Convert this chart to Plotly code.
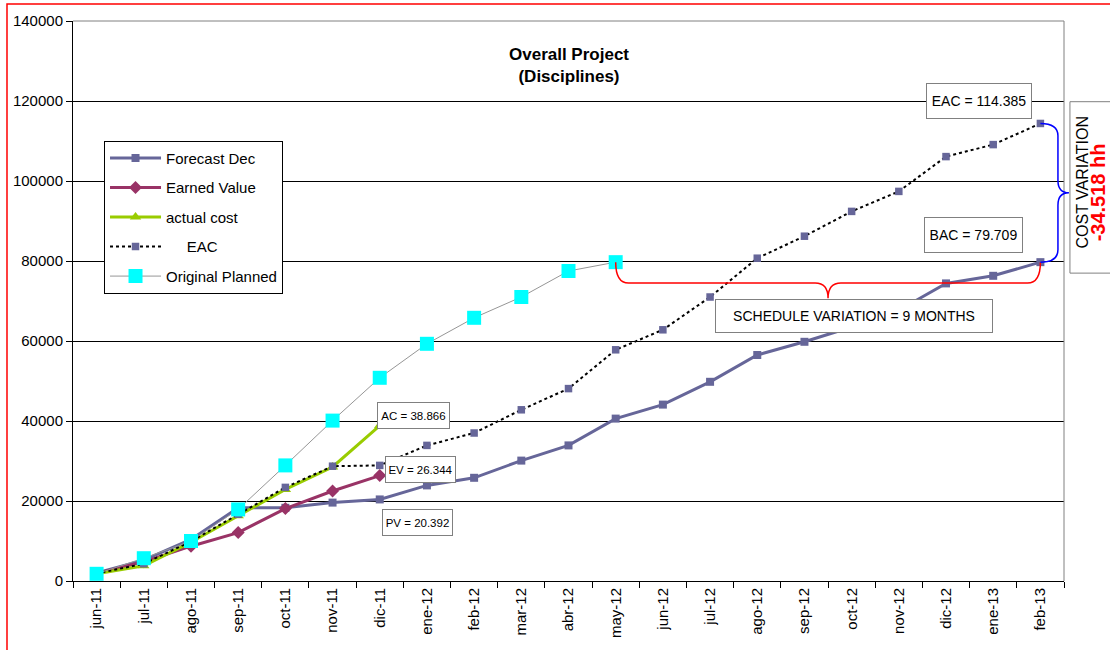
import plotly.graph_objects as go

months = ["jun-11", "jul-11", "ago-11", "sep-11", "oct-11", "nov-11", "dic-11",
          "ene-12", "feb-12", "mar-12", "abr-12", "may-12", "jun-12", "jul-12",
          "ago-12", "sep-12", "oct-12", "nov-12", "dic-12", "ene-13", "feb-13"]

forecast_dec = [2000, 5200, 10400, 18300, 18300, 19600, 20392, 23900, 25800, 30100, 33900,
                40600, 44100, 49800, 56500, 59800, 63500, 67700, 74400, 76300, 79709]
earned_value = [1900, 4800, 8700, 12100, 18100, 22500, 26344]
actual_cost = [1800, 3800, 9700, 16300, 22900, 28500, 38866]
eac = [1900, 4300, 9900, 16700, 23400, 28700, 28900, 33900, 37000, 42800, 48100,
       57800, 62800, 71000, 80700, 86200, 92400, 97400, 106100, 109100, 114385]
original_planned = [1800, 5700, 10000, 17900, 28900, 40100, 50800, 59300, 65800,
                    71000, 77500, 79709]

Y_MAX = 140000
FONT = "Arial, Liberation Sans, sans-serif"
PURPLE = "#666699"

fig = go.Figure()
fig.add_trace(go.Scatter(x=months, y=forecast_dec, name="Forecast Dec", legendgroup="a",
                         mode="lines+markers", line=dict(color=PURPLE, width=3),
                         marker=dict(symbol="square", size=8, color=PURPLE)))
fig.add_trace(go.Scatter(x=months[:len(earned_value)], y=earned_value, name="Earned Value",
                         legendgroup="b", mode="lines+markers",
                         line=dict(color="#993366", width=3),
                         marker=dict(symbol="diamond", size=10, color="#993366")))
fig.add_trace(go.Scatter(x=months[:len(actual_cost)], y=actual_cost, name="actual cost",
                         legendgroup="c", mode="lines+markers",
                         line=dict(color="#99CC00", width=3),
                         marker=dict(symbol="triangle-up", size=10, color="#99CC00")))
fig.add_trace(go.Scatter(x=months, y=eac, name="\u00a0\u00a0\u00a0\u00a0\u00a0EAC",
                         legendgroup="d", mode="lines+markers",
                         line=dict(color="black", width=2, dash="dot"),
                         marker=dict(symbol="square", size=7.5, color=PURPLE)))
fig.add_trace(go.Scatter(x=months[:len(original_planned)], y=original_planned,
                         name="Original Planned", legendgroup="e", mode="lines+markers",
                         line=dict(color="#969696", width=1),
                         marker=dict(symbol="square", size=14, color="#00FFFF")))

def px(i):
    return (i + 0.5) / len(months)

def py(v):
    return v / Y_MAX

shapes = []
# outer red frame
shapes.append(dict(type="rect", xref="paper", yref="paper", x0=-0.0666, x1=1.2,
                   y0=-0.5, y1=1.0302, line=dict(color="red", width=1.5), layer="below"))
# gray top and right border of plot
shapes.append(dict(type="line", xref="paper", yref="paper", x0=0, x1=1, y0=1, y1=1,
                   line=dict(color="#808080", width=1)))
shapes.append(dict(type="line", xref="paper", yref="paper", x0=1, x1=1, y0=0, y1=1,
                   line=dict(color="#808080", width=1)))

# red schedule-variation brace
i_start = len(original_planned) - 1
i_end = len(months) - 1
xa, xb = px(i_start), px(i_end)
xm = (xa + xb) / 2
ytop = py(original_planned[-1])
ymid = py(74500)
ytip = py(70700)
dx = 0.013
red_path = (f"M{xa},{ytop} Q{xa},{ymid} {xa+dx},{ymid} L{xm-dx},{ymid} "
            f"Q{xm},{ymid} {xm},{ytip} Q{xm},{ymid} {xm+dx},{ymid} "
            f"L{xb-dx},{ymid} Q{xb},{ymid} {xb},{ytop}")
shapes.append(dict(type="path", xref="paper", yref="paper", path=red_path,
                   line=dict(color="red", width=1.5)))

# blue cost-variation brace
x0 = px(i_end)
x1 = x0 + 0.0177
xt = x0 + 0.0288
yt = py(eac[-1])
yb = py(forecast_dec[-1])
yc = (yt + yb) / 2
d = 0.022
blue_path = (f"M{x0},{yt} Q{x1},{yt} {x1},{yt-d} L{x1},{yc+d} "
             f"Q{x1},{yc} {xt},{yc} Q{x1},{yc} {x1},{yc-d} "
             f"L{x1},{yb+d} Q{x1},{yb} {x0},{yb}")
shapes.append(dict(type="path", xref="paper", yref="paper", path=blue_path,
                   line=dict(color="blue", width=1.5)))

# cost variation box
shapes.append(dict(type="rect", xref="paper", yref="paper", x0=1.006, x1=1.08,
                   y0=0.5498, y1=0.8559, line=dict(color="#808080", width=1),
                   fillcolor="white"))

def box(x, y, text, size, w, h, pad=3):
    return dict(x=x, y=y, text=text, font=dict(size=size, color="black", family=FONT),
                bgcolor="white", bordercolor="#808080", borderwidth=1, borderpad=pad,
                width=w, height=h, showarrow=False, xanchor="center", yanchor="middle")

annotations = [
    dict(x=0.5, y=0.92, xref="paper", yref="paper", showarrow=False,
         xanchor="center", yanchor="middle",
         text="<b>Overall Project</b><br><b>(Disciplines)</b>",
         font=dict(size=17, color="black", family=FONT)),
    box(6.72, 41470, "AC = 38.866", 11.5, 67, 21, 2),
    box(6.87, 27770, "EV = 26.344", 11.5, 65, 21, 2),
    box(6.81, 14570, "PV = 20.392", 11.5, 65, 21, 2),
    box(18.69, 120050, "EAC = 114.385", 14, 98, 28),
    box(18.59, 86430, "BAC = 79.709", 14, 91, 28),
    box(16.04, 66250, "SCHEDULE VARIATION = 9 MONTHS", 14, 270, 26),
    dict(x=1.0182, y=0.7117, xref="paper", yref="paper", showarrow=False, textangle=-90,
         xanchor="center", yanchor="middle",
         text="COST VARIATION", font=dict(size=16, color="black", family=FONT)),
    dict(x=1.0343, y=0.694, xref="paper", yref="paper", showarrow=False, textangle=-90,
         xanchor="center", yanchor="middle",
         text="<b>-34.518 hh</b>", font=dict(size=20, color="red", family=FONT)),
]

fig.update_layout(
    width=1110, height=650,
    margin=dict(l=73, r=46, t=20, b=68),
    paper_bgcolor="white", plot_bgcolor="white",
    font=dict(family=FONT, color="black"),
    showlegend=True,
    legend=dict(x=0.0313, y=0.786, xanchor="left", yanchor="top",
                bgcolor="white", bordercolor="black", borderwidth=1,
                font=dict(size=15, color="black", family=FONT),
                tracegroupgap=7, traceorder="grouped", itemwidth=51),
    shapes=shapes,
    annotations=annotations,
    xaxis=dict(type="category", categoryorder="array", categoryarray=months,
               range=[-0.5, len(months) - 0.5], tickangle=-90,
               tickson="boundaries", ticks="outside", ticklen=6, tickcolor="black",
               showline=True, linecolor="black", linewidth=1, showgrid=False,
               tickfont=dict(size=15, color="black", family=FONT)),
    yaxis=dict(range=[0, Y_MAX], dtick=20000, tickformat="d",
               showgrid=True, gridcolor="black", gridwidth=1,
               ticks="outside", ticklen=6, tickcolor="black",
               showline=True, linecolor="black", linewidth=1, zeroline=False,
               tickfont=dict(size=15, color="black", family=FONT)),
)

fig.write_html("out.html", config={"displayModeBar": False},
               post_script="document.body.style.margin='0px';")
